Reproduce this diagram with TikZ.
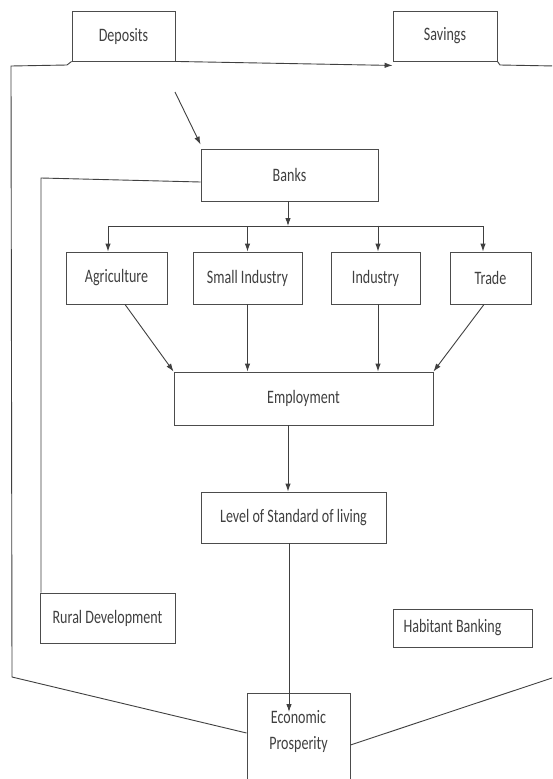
\documentclass[tikz,border=0pt]{standalone}
\usepackage{fontspec}
\setmainfont[FakeStretch=0.74]{Carlito}
\usetikzlibrary{arrows.meta,calc}
\tikzset{
  box/.style={draw=black!70, line width=0.9pt, fill=white, inner sep=0pt, font=\fontsize{19}{21}\selectfont, text=black!75},
  con/.style={draw=black!75, line width=0.9pt},
  arr/.style={con, -{Latex[length=8pt,width=5.5pt]}},
}
\begin{document}
\begin{tikzpicture}[x=1pt,y=-1pt]
\useasboundingbox (0,0) rectangle (552,779);
\clip (0,0) rectangle (552,779);
\fill[white] (0,0) rectangle (552,779);
% boxes
\node[box, minimum width=103pt, minimum height=50pt] (dep) at (123.5,36) {Deposits};
\node[box, minimum width=104pt, minimum height=50pt] (sav) at (445,36) {Savings};
\node[box, minimum width=177pt, minimum height=52pt] (banks) at (289.5,175) {Banks};
\node[box, minimum width=101pt, minimum height=52pt] (agri) at (116.5,278) {Agriculture};
\node[box, minimum width=109pt, minimum height=52pt] (small) at (247.5,278) {Small Industry};
\node[box, minimum width=89pt, minimum height=52pt] (ind) at (375.5,278) {Industry};
\node[box, minimum width=81pt, minimum height=52pt] (trade) at (490.5,278) {Trade};
\node[box, minimum width=259pt, minimum height=53pt] (emp) at (303.5,398.5) {Employment};
\node[box, minimum width=185pt, minimum height=51pt] (level) at (293.5,517.5) {Level of Standard of living};
\node[box, minimum width=135pt, minimum height=50pt] (rural) at (107.5,618) {Rural Development};
\node[box, minimum width=139pt, minimum height=38pt, align=left] (hab) at (462.5,628) {Habitant Banking\hspace*{20pt}};
\node[box, anchor=north, minimum width=103pt] (econ) at (298.5,693)
  {\parbox[c][100pt][t]{100pt}{\centering\vspace*{17pt}Economic\\[5pt]Prosperity}};
% coordinates
\coordinate (lt) at (67,65);
\coordinate (lc) at (11,66);
\coordinate (lb) at (12,677);
\coordinate (rt) at (500,65);
\coordinate (rc) at (555,66);
\coordinate (rb) at (555,677);
\coordinate (sd) at (175,92);
\coordinate (bk1) at (41,178);
\coordinate (barL) at (108,226);
\coordinate (barR) at (483,226);
\coordinate (barM) at (288,226);
\coordinate (etip) at (289,712);
% outer frame
\draw[con] (dep.south west) -- (lt) -- (lc) -- (lb) -- ($(econ.north west)+(0,40)$);
\draw[con] (sav.south east) -- (rt) -- (rc) -- (rb) -- ($(econ.north east)+(0,52)$);
% deposits to savings
\draw[arr] (dep.south east) -- ($(sav.south west)+(0,4)$);
% to banks
\draw[arr] (sd) -- ($(banks.north west)+(0,-4)$);
% banks to rural
\draw[con] ($(banks.west)+(0,7)$) -- (bk1) -- (rural.north -| bk1);
% banks distribution
\draw[arr] (banks.south -| barM) -- (barM);
\draw[con] (barL) -- (barR);
\draw[arr] (barL) -- (agri.north -| barL);
\draw[arr] (small.north |- barL) -- (small.north);
\draw[arr] (ind.north -| 378,0) ++(0,-26) -- (ind.north -| 378,0);
\draw[arr] (barR) -- (trade.north -| barR);
% to employment
\draw[arr] (agri.south -| 125,0) -- (emp.north west);
\draw[arr] (small.south) -- (small.south |- emp.north);
\draw[arr] (ind.south -| 378,0) -- (emp.north -| 378,0);
\draw[arr] (trade.south -| 484,0) -- (emp.north east);
% employment to level
\draw[arr] (emp.south -| 288,0) -- (level.north -| 288,0);
% level to economic prosperity
\draw[arr] (level.south -| etip) -- (etip);
\end{tikzpicture}
\end{document}
